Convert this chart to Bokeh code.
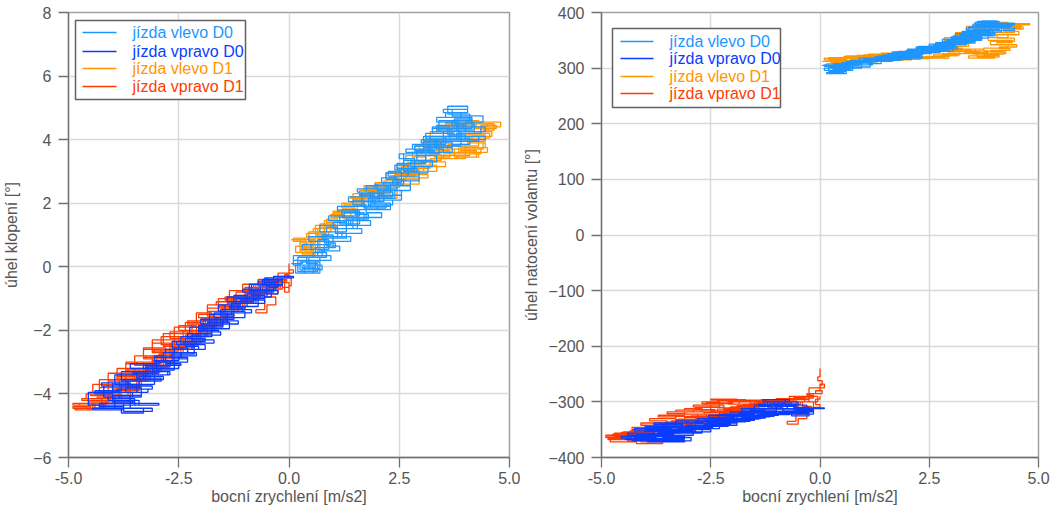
from bokeh.plotting import figure
from bokeh.models import Range1d, FixedTicker, NumeralTickFormatter, Label, BoxAnnotation
from bokeh.layouts import row
from bokeh.embed import file_html
from bokeh.resources import INLINE

# ---------------- data ----------------
series_names = ["jízda vlevo D0", "jízda vpravo D0", "jízda vlevo D1", "jízda vpravo D1"]
series_colors = ["#1e96ff", "#0a3cff", "#ff9600", "#ff3c00"]

x_ticks = [-5.0, -2.5, 0.0, 2.5, 5.0]
roll_ticks = [-6, -4, -2, 0, 2, 4, 6, 8]
steer_ticks = [-400, -300, -200, -100, 0, 100, 200, 300, 400]

x_label = "bocní zrychlení [m/s2]"
roll_label = "úhel klopení [°]"
steer_label = "úhel natocení volantu [°]"

# jízda vlevo D0
lb_x = [0.05,0.30,0.10,0.45,0.25,0.60,0.35,0.70,0.40,0.65,
        0.20,0.55,0.80,0.50,0.90,0.65,1.00,0.75,1.10,0.85,
        1.30,1.00,1.45,1.15,1.60,1.25,1.70,1.35,1.55,1.20,
        1.75,1.45,1.95,1.60,2.05,1.70,2.20,1.85,2.30,1.95,
        2.45,2.10,2.55,2.25,2.70,2.40,2.85,2.50,3.00,2.65,
        3.20,2.80,3.35,3.00,3.50,3.10,3.65,3.25,3.80,3.35,
        3.90,3.50,4.05,3.60,4.10,3.70,4.35,3.80,4.45,3.85,
        4.20,3.75,4.15,3.60,4.00,3.45,3.90,3.40,3.85,3.30,
        3.70,3.15,3.55,3.05,3.40,2.90,3.25,2.75,3.10,2.60,
        2.95,2.40,2.75,2.20,2.55,2.00,2.35,1.80,2.15,1.65,
        2.00,1.50,1.80,1.30,1.55,1.05,1.30,0.80,1.05,0.60,
        0.85,0.45,0.70,0.30,0.55,0.15,
        0.60,0.10,0.75,0.30,0.95,0.45,1.20,0.70,1.40,0.90,
        1.60,1.10,1.85,1.35,2.05,1.55,2.25,1.75,2.35,1.90,
        2.30,1.80,2.40,2.00,2.60,2.20,2.90,2.45,3.05,2.60,
        3.30,2.85,3.55,3.05,3.75,3.25,3.95,3.40,4.15,3.55,
        4.05,3.70,4.40,3.80,4.45,3.90,4.30,3.70,4.10,3.50,
        4.00,3.35,3.85,3.20,3.70,3.05,3.50,2.90,3.35,2.75,
        3.15,2.55,2.95,2.35,2.75,2.15,2.55,1.95,2.30,1.75,
        2.10,1.55,1.85,1.30,1.65,1.10,1.40,0.85,1.15,0.65,
        0.95,0.45,0.75,0.30,0.60,0.20]
lb_roll = [0.10,0.20,0.05,-0.10,0.15,0.00,-0.20,0.30,0.10,-0.15,
           0.30,0.45,0.70,0.55,0.85,0.60,1.00,0.90,1.25,1.10,
           1.40,1.20,1.60,1.35,1.55,1.70,1.45,1.30,1.80,1.55,
           1.95,2.10,2.25,2.30,2.05,1.85,2.00,2.35,2.60,2.45,
           2.80,2.65,3.00,2.85,3.20,3.05,3.40,3.55,3.70,3.60,
           3.85,3.70,4.00,3.90,4.20,4.05,4.40,4.25,4.55,4.70,
           4.85,4.95,5.05,4.80,4.60,4.40,4.20,4.00,4.10,4.30,
           4.50,4.65,4.35,4.15,3.95,3.80,4.25,4.45,4.00,3.75,
           3.60,3.85,4.10,3.70,3.55,3.35,3.15,3.25,3.55,3.00,
           2.85,2.70,2.55,2.40,2.25,2.10,1.95,2.05,2.30,1.90,
           1.80,1.65,1.50,1.35,1.20,1.05,0.90,0.75,0.60,0.45,
           0.30,0.15,-0.05,0.00,-0.20,0.05,
           0.20,0.35,0.55,0.70,0.80,0.95,1.10,1.30,1.45,1.60,
           1.75,1.90,2.05,2.20,2.35,2.45,2.55,2.35,2.20,2.00,
           1.90,2.15,2.40,2.60,2.75,2.95,3.10,3.25,3.35,3.55,
           3.65,3.80,3.95,4.10,4.20,4.35,4.45,4.60,4.70,4.85,
           4.95,4.75,4.55,4.40,4.25,4.10,3.95,3.85,4.05,4.25,
           4.45,4.30,4.10,3.90,3.75,3.60,3.70,3.50,3.30,3.15,
           2.95,2.85,2.70,2.55,2.40,2.25,2.10,1.95,1.80,1.70,
           1.55,1.45,1.30,1.20,1.05,0.95,0.80,0.65,0.50,0.35,
           0.20,0.05,-0.10,-0.15,0.05,0.20]
lb_steer = [305,306,303,300,302,304,298,296,299,302,
            306,308,310,307,305,309,312,314,311,309,
            313,316,318,315,317,320,322,319,316,318,
            321,324,322,325,327,324,322,326,329,331,
            334,332,336,339,337,335,340,343,346,344,
            348,352,356,353,358,362,366,363,368,372,
            376,379,382,384,380,377,374,378,381,376,
            372,368,365,361,358,362,366,363,359,355,
            352,348,351,354,350,346,343,340,337,341,
            338,334,331,328,331,327,324,326,329,325,
            322,319,321,317,314,316,313,310,312,308,
            305,302,299,296,292,290,
            296,300,304,308,302,306,310,314,318,314,
            312,316,320,318,322,326,324,320,318,322,
            326,330,334,332,336,338,334,330,336,342,
            348,345,352,358,364,360,368,374,378,382,
            385,380,376,372,368,373,378,374,369,364,
            358,354,360,356,350,346,352,348,342,338,
            334,338,332,328,334,330,326,322,326,320,
            316,318,314,318,312,308,312,306,302,306,
            300,296,302,298,294,300]

# jízda vpravo D0
bl_x = [-0.10,-0.35,-0.15,-0.45,-0.25,-0.60,-0.35,-0.75,-0.50,-0.85,
        -0.55,-0.95,-0.70,-1.10,-0.80,-1.20,-0.95,-1.35,-1.05,-1.45,
        -1.15,-1.55,-1.25,-1.70,-1.40,-1.80,-1.50,-1.95,-1.60,-2.05,
        -1.75,-2.20,-1.90,-2.35,-2.05,-2.50,-2.15,-2.65,-2.30,-2.80,
        -2.45,-2.95,-2.60,-3.10,-2.75,-3.25,-2.90,-3.40,-3.05,-3.55,
        -3.20,-3.70,-3.35,-3.85,-3.50,-4.00,-3.60,-4.25,-3.75,-4.45,
        -3.80,-3.30,-3.95,-3.40,-4.55,-3.55,-4.20,-3.65,-4.00,-3.45,
        -3.95,-3.30,-3.80,-3.15,-3.60,-3.00,-3.45,-2.85,-3.25,-2.70,
        -3.05,-2.50,-2.85,-2.30,-2.65,-2.10,-2.45,-1.90,-2.25,-1.70,
        -2.00,-1.50,-1.80,-1.30,-1.60,-1.10,-1.40,-0.95,-1.25,-0.80,
        -1.05,-0.60,-0.90,-0.45,-0.70,-0.30,-0.55,-0.15,-0.35,0.10,
        -0.50,-0.15,-0.65,-0.25,-0.85,-0.40,-1.00,-0.55,-1.20,-0.70,
        -1.30,-0.85,-1.50,-1.00,-1.65,-1.15,-1.85,-1.35,-2.05,-1.55,
        -2.20,-1.70,-2.40,-1.90,-2.60,-2.10,-2.80,-2.30,-3.00,-2.50,
        -3.20,-2.70,-3.45,-2.90,-3.65,-3.10,-3.90,-3.35,-4.10,-3.55,
        -4.30,-3.75,-3.10,-3.60,-2.95,-3.50,-4.00,-4.40,-3.80,-4.25,
        -3.60,-4.00,-3.40,-3.80,-3.15,-3.55,-2.95,-3.30,-2.70,-3.05,
        -2.45,-2.80,-2.20,-2.55,-1.95,-2.30,-1.75,-2.05,-1.50,-1.80,
        -1.25,-1.55,-1.00,-1.30,-0.75,-1.05,-0.50,-0.80,-0.30,-0.55]
bl_roll = [-0.30,-0.45,-0.55,-0.65,-0.40,-0.60,-0.80,-0.75,-0.55,-0.90,
           -1.00,-0.85,-1.05,-1.15,-0.95,-1.00,-1.25,-1.30,-1.40,-1.20,
           -1.35,-1.55,-1.60,-1.45,-1.75,-1.90,-1.70,-2.00,-2.05,-1.85,
           -2.20,-2.35,-2.25,-2.50,-2.60,-2.45,-2.75,-2.90,-2.85,-3.05,
           -3.10,-2.95,-3.25,-3.40,-3.30,-3.55,-3.60,-3.45,-3.70,-3.85,
           -3.95,-3.80,-4.05,-4.15,-4.25,-4.05,-4.35,-4.30,-4.50,-4.45,
           -4.60,-4.45,-4.20,-4.35,-3.95,-4.10,-3.75,-3.65,-3.95,-3.70,
           -3.40,-3.55,-3.30,-3.20,-3.05,-3.30,-3.55,-3.45,-3.15,-3.00,
           -2.80,-2.95,-2.70,-2.55,-2.35,-2.45,-2.20,-2.10,-1.90,-1.80,
           -1.65,-1.75,-1.50,-1.40,-1.20,-1.10,-0.95,-0.90,-1.10,-0.80,
           -0.70,-0.75,-0.55,-0.60,-0.45,-0.50,-0.35,-0.40,-0.30,-0.35,
           -0.45,-0.60,-0.75,-0.85,-0.70,-0.95,-1.05,-1.15,-1.00,-1.25,
           -1.35,-1.45,-1.40,-1.60,-1.70,-1.80,-1.75,-1.95,-2.05,-2.15,
           -2.30,-2.40,-2.45,-2.60,-2.70,-2.80,-2.85,-3.00,-3.10,-3.20,
           -3.30,-3.40,-3.50,-3.60,-3.75,-3.85,-3.95,-4.10,-4.20,-4.30,
           -4.40,-4.55,-4.45,-4.30,-4.35,-4.15,-4.00,-3.90,-3.75,-3.65,
           -3.75,-3.75,-3.55,-3.60,-3.40,-3.35,-3.20,-3.10,-2.95,-2.85,
           -2.70,-2.60,-2.45,-2.35,-2.25,-2.10,-2.00,-1.85,-1.75,-1.65,
           -1.50,-1.35,-1.25,-1.15,-1.00,-0.95,-0.80,-0.70,-0.55,-0.45]
bl_steer = [-312,-315,-318,-314,-310,-316,-320,-317,-313,-318,
            -322,-319,-323,-321,-317,-320,-324,-322,-326,-323,
            -327,-325,-329,-327,-331,-329,-333,-331,-335,-332,
            -336,-334,-338,-336,-340,-338,-342,-340,-344,-342,
            -346,-344,-348,-346,-350,-348,-352,-350,-354,-352,
            -356,-354,-358,-356,-360,-358,-362,-364,-366,-368,
            -370,-372,-368,-365,-362,-359,-356,-353,-350,-347,
            -344,-341,-338,-341,-344,-347,-350,-353,-350,-346,
            -342,-339,-336,-333,-336,-333,-330,-327,-330,-327,
            -324,-321,-318,-315,-312,-308,-304,-300,-296,-300,
            -304,-308,-312,-316,-320,-318,-314,-316,-312,-311,
            -318,-322,-325,-320,-316,-312,-308,-304,-300,-296,
            -300,-306,-312,-318,-324,-320,-326,-330,-326,-332,
            -336,-332,-338,-342,-338,-344,-348,-344,-350,-354,
            -350,-356,-360,-356,-362,-366,-360,-356,-362,-366,
            -370,-372,-368,-364,-370,-366,-360,-356,-352,-348,
            -344,-348,-352,-346,-340,-344,-338,-334,-338,-334,
            -330,-334,-328,-324,-328,-322,-318,-322,-316,-312,
            -316,-320,-316,-312,-308,-304,-300,-306,-312,-316]

# jízda vlevo D1
or_x = [0.05,0.35,0.10,0.40,0.25,0.55,0.30,0.60,0.35,0.50,
        0.20,0.65,0.40,0.80,0.55,0.95,0.70,1.10,0.85,1.25,
        0.95,1.40,1.10,1.55,1.25,1.70,1.40,1.85,1.60,2.05,
        1.75,2.20,1.90,2.35,2.05,2.45,2.15,2.55,2.30,2.65,
        2.40,2.80,2.55,2.95,2.70,3.10,2.80,3.25,2.95,3.40,
        3.05,3.50,3.20,3.70,3.35,3.85,3.55,4.05,3.75,4.25,
        4.00,4.50,4.20,4.70,4.35,4.60,4.15,4.45,4.00,4.30,
        3.85,4.40,4.05,4.50,4.10,4.35,3.90,4.25,3.75,4.10,
        3.60,4.00,3.50,3.85,3.40,3.75,3.30,3.65,3.20,3.45,
        2.95,3.20,2.80,3.05,2.60,2.85,2.40,2.65,2.20,2.50,
        2.00,2.30,1.80,2.10,1.60,1.90,1.40,1.70,1.20,1.45,
        1.00,1.25,0.80,1.05,0.65,0.85,0.45,0.65,0.30,0.50,
        0.15,0.55,0.25,0.60,0.35,0.70,0.45,0.90,0.60,1.05,
        0.80,1.30,1.00,1.50,1.20,1.70,1.45,2.00,1.70,2.25,
        1.95,2.50,2.20,2.75,2.45,3.00,2.65,3.20,2.85,3.45,
        3.10,3.70,3.35,3.95,3.60,4.30,4.80,4.40,4.65,4.20,
        4.55,4.05,4.45,3.90,4.30,3.75,4.20,3.60,4.00,3.40,
        3.80,3.20,3.55,3.00,3.35,2.80,3.15,2.60,2.95,2.40]
or_roll = [0.85,0.90,0.80,0.55,0.75,0.45,0.40,0.70,0.60,0.85,
           0.90,1.05,0.95,1.20,1.10,1.35,1.25,1.50,1.40,1.65,
           1.55,1.80,1.75,2.00,1.95,2.20,2.15,2.40,2.30,2.45,
           2.50,2.55,2.35,2.20,2.15,2.50,2.70,2.85,2.75,2.95,
           2.90,3.15,3.05,3.25,3.35,3.45,3.60,3.70,3.80,3.90,
           4.00,4.10,4.25,4.35,4.45,4.55,4.50,4.60,4.45,4.55,
           4.40,4.50,4.35,4.45,4.25,4.10,3.95,4.15,4.00,3.80,
           3.70,3.90,3.75,3.60,3.55,3.75,3.65,3.45,3.50,3.70,
           3.60,3.40,3.55,3.80,3.70,3.50,3.45,3.65,3.55,3.35,
           3.30,3.10,3.20,3.00,3.05,2.85,2.95,2.70,2.65,2.50,
           2.45,2.30,2.35,2.20,2.25,2.05,2.05,1.90,1.85,1.70,
           1.60,1.45,1.35,1.20,1.05,0.90,0.80,0.60,0.70,0.45,
           0.65,0.50,0.85,0.75,0.55,0.95,1.10,1.00,1.30,1.20,
           1.45,1.60,1.75,1.85,2.00,2.10,2.30,2.40,2.55,2.45,
           2.65,2.80,2.95,3.05,3.20,3.35,3.50,3.65,3.80,3.95,
           4.10,4.25,4.40,4.50,4.60,4.55,4.40,4.30,4.50,4.20,
           4.05,3.90,3.75,3.60,3.45,3.55,3.70,3.85,3.60,3.50,
           3.40,3.30,3.15,3.20,3.00,2.90,2.80,2.75,2.60,2.50]
or_steer = [312,315,318,314,310,307,304,309,313,316,
            319,317,314,318,321,319,316,320,323,321,
            318,322,325,323,320,324,327,325,322,326,
            329,327,324,328,331,329,333,336,334,338,
            335,333,337,340,338,335,332,336,339,343,
            346,350,354,358,362,366,370,374,377,380,
            377,375,378,379,376,372,368,364,360,355,
            350,346,342,338,335,332,329,326,323,320,
            322,325,328,331,334,331,328,330,333,330,
            327,324,326,322,319,321,318,320,317,319,
            316,318,315,317,314,316,313,315,312,314,
            311,313,310,312,309,311,308,306,309,305,
            308,312,316,311,307,313,318,322,319,315,
            320,324,321,317,323,327,324,320,326,330,
            327,333,336,332,338,342,346,350,355,360,
            364,370,375,379,382,378,380,374,370,366,
            360,354,348,342,336,330,325,320,318,322,
            326,330,334,330,326,322,325,321,318,320]

# jízda vpravo D1
rd_x = [0.00,0.00,-0.05,0.05,0.00,-0.10,-0.30,-0.15,-0.45,-0.25,
        -0.60,-0.35,-0.70,-0.45,-0.90,-0.60,-1.00,-0.75,-1.15,-0.85,
        -1.30,-1.00,-1.45,-1.15,-1.60,-1.25,-1.75,-1.40,-1.90,-1.55,
        -2.05,-1.70,-2.20,-1.85,-2.35,-2.00,-2.50,-2.15,-2.65,-2.30,
        -2.80,-2.45,-2.95,-2.60,-3.10,-2.75,-3.25,-2.90,-3.40,-3.05,
        -3.55,-3.20,-3.70,-3.35,-3.85,-3.50,-4.00,-3.65,-4.20,-3.80,
        -4.35,-3.95,-4.55,-4.15,-4.75,-4.30,-4.90,-4.50,-4.85,-4.40,
        -4.10,-4.60,-4.00,-4.45,-3.85,-4.30,-3.70,-4.10,-3.50,-3.90,
        -3.30,-3.70,-3.10,-3.50,-2.90,-3.30,-2.70,-3.10,-2.50,-2.90,
        -2.30,-2.70,-2.10,-2.50,-1.90,-2.30,-1.70,-2.05,-1.50,-1.85,
        -1.30,-1.65,-1.10,-1.45,-0.90,-1.20,-0.70,-1.00,-0.55,-0.75,
        -0.50,-0.30,-0.55,-0.20,-0.40,-0.05,-0.25,0.05,0.00,0.10,
        -0.25,-0.60,-0.35,-0.80,-0.50,-1.00,-0.65,-1.20,-0.85,-1.40,
        -1.05,-1.60,-1.25,-1.80,-1.45,-2.00,-1.65,-2.20,-1.85,-2.40,
        -2.05,-2.60,-2.25,-2.85,-2.45,-3.05,-2.65,-3.25,-2.85,-3.45,
        -3.05,-3.65,-3.25,-3.90,-3.45,-4.10,-3.65,-4.30,-3.85,-4.50,
        -4.05,-4.70,-4.25,-4.90,-4.45,-4.80,-4.20,-3.60,-4.10,-3.40,
        -3.90,-3.20,-3.70,-3.00,-3.50,-2.80,-3.30,-2.60,-3.10,-2.40,
        -2.85,-2.20,-2.60,-2.00,-2.35,-1.75,-2.10,-1.50,-1.85,-1.25,
        -1.60,-1.00,-1.35,-0.75,-1.05,-0.45,-0.15,0.00,-0.10,0.00]
rd_roll = [0.10,-0.20,-0.35,-0.60,-0.80,-0.50,-0.45,-0.70,-0.55,-0.85,
           -0.60,-0.40,-0.50,-0.75,-0.65,-0.85,-0.80,-1.00,-0.95,-1.10,
           -1.00,-1.25,-1.20,-1.40,-1.30,-1.55,-1.50,-1.70,-1.65,-1.85,
           -1.80,-2.00,-2.00,-2.20,-2.15,-2.40,-2.30,-2.55,-2.45,-2.70,
           -2.60,-2.85,-2.75,-3.00,-2.95,-3.15,-3.10,-3.30,-3.25,-3.45,
           -3.40,-3.60,-3.55,-3.75,-3.70,-3.90,-3.85,-4.05,-4.00,-4.15,
           -4.10,-4.25,-4.20,-4.35,-4.30,-4.45,-4.40,-4.50,-4.45,-4.30,
           -4.00,-4.15,-3.70,-3.95,-3.55,-3.80,-3.35,-3.60,-3.20,-3.45,
           -3.00,-3.25,-2.80,-3.05,-2.60,-2.85,-2.40,-2.65,-2.20,-2.45,
           -2.05,-2.25,-1.85,-2.00,-1.70,-1.80,-1.50,-1.60,-1.30,-1.40,
           -1.10,-1.20,-0.95,-1.05,-0.80,-0.90,-0.65,-0.75,-1.35,-1.45,
           -1.20,-0.95,-0.70,-0.60,-0.45,-0.40,-0.30,-0.30,-0.10,-0.20,
           -0.45,-0.40,-0.65,-0.55,-0.80,-0.70,-0.95,-0.90,-1.15,-1.05,
           -1.30,-1.25,-1.50,-1.40,-1.70,-1.65,-1.90,-1.80,-2.10,-2.00,
           -2.30,-2.20,-2.50,-2.40,-2.70,-2.60,-2.90,-2.80,-3.10,-3.00,
           -3.30,-3.20,-3.50,-3.40,-3.70,-3.60,-3.90,-3.80,-4.05,-4.00,
           -4.20,-4.15,-4.35,-4.30,-4.50,-4.45,-4.25,-3.70,-3.90,-3.40,
           -3.55,-3.05,-3.35,-2.80,-3.10,-2.55,-2.90,-2.30,-2.70,-2.10,
           -2.50,-1.90,-2.30,-1.75,-2.05,-1.45,-1.80,-1.20,-1.55,-1.00,
           -1.30,-0.75,-1.05,-0.55,-0.80,-0.40,-0.65,-0.50,-0.25,-0.05]
rd_steer = [-240,-255,-262,-270,-280,-285,-288,-293,-290,-296,
            -292,-295,-290,-294,-297,-300,-296,-302,-298,-304,
            -299,-305,-301,-307,-303,-309,-305,-311,-307,-313,
            -309,-315,-311,-317,-313,-319,-316,-322,-319,-325,
            -322,-328,-325,-331,-328,-334,-331,-337,-334,-340,
            -337,-343,-340,-346,-343,-349,-346,-352,-349,-355,
            -352,-358,-355,-361,-358,-364,-361,-366,-368,-370,
            -366,-362,-358,-354,-350,-346,-342,-338,-334,-330,
            -327,-324,-321,-318,-315,-318,-312,-315,-306,-309,
            -300,-303,-297,-295,-296,-298,-296,-297,-298,-299,
            -298,-297,-298,-300,-296,-298,-294,-296,-335,-340,
            -330,-322,-315,-308,-300,-290,-285,-280,-268,-275,
            -300,-296,-300,-304,-308,-302,-306,-310,-314,-308,
            -312,-316,-320,-314,-318,-322,-326,-320,-324,-328,
            -332,-326,-330,-334,-338,-332,-336,-340,-344,-338,
            -342,-346,-350,-344,-348,-352,-356,-350,-354,-358,
            -362,-356,-360,-364,-368,-372,-375,-372,-366,-362,
            -356,-352,-346,-342,-336,-332,-326,-322,-318,-314,
            -310,-306,-302,-298,-296,-300,-304,-300,-304,-300,
            -304,-300,-296,-300,-304,-300,-310,-305,-295,-290]

FONT = "Liberation Sans"


def make_panel(width, y_rng, y_ticks, y_label, ys, min_left, min_right, ylab_standoff, leg):
    p = figure(width=width, height=510, x_range=Range1d(-5, 5), y_range=Range1d(*y_rng),
               output_backend="svg", toolbar_location=None,
               min_border_left=min_left, min_border_right=min_right,
               min_border_top=12, min_border_bottom=53)
    p.outline_line_color = "#a0a0a0"
    p.outline_line_width = 1.5
    for ax, ticks, lab in ((p.xaxis[0], x_ticks, x_label), (p.yaxis[0], y_ticks, y_label)):
        ax.ticker = FixedTicker(ticks=ticks)
        ax.axis_label = lab
        ax.axis_label_text_font = FONT
        ax.axis_label_text_font_size = "16px"
        ax.axis_label_text_font_style = "normal"
        ax.axis_label_text_color = "#555555"
        ax.major_label_text_font = FONT
        ax.major_label_text_font_size = "16px"
        ax.major_label_text_color = "#555555"
        ax.axis_line_color = "#707070"
        ax.axis_line_width = 1.3
        ax.major_tick_line_color = "#707070"
        ax.major_tick_line_width = 1.3
        ax.major_tick_out = 10
        ax.major_tick_in = 0
        ax.minor_tick_line_color = None
    p.xaxis[0].formatter = NumeralTickFormatter(format="0.0")
    p.xaxis[0].major_label_standoff = 4
    p.xaxis[0].axis_label_standoff = 1
    p.yaxis[0].major_label_standoff = 7
    p.yaxis[0].axis_label_standoff = ylab_standoff
    p.xgrid.ticker = FixedTicker(ticks=x_ticks)
    p.ygrid.ticker = FixedTicker(ticks=y_ticks)
    p.grid.grid_line_color = "#dadada"
    p.grid.grid_line_width = 1.5

    xs = [lb_x, bl_x, or_x, rd_x]
    order = [2, 3, 0, 1]
    for i in order:
        n = min(len(xs[i]), len(ys[i]))
        p.step(xs[i][:n], ys[i][:n], mode="after",
               line_color=series_colors[i], line_width=1.3)

    bx0, bx1, by0, by1, lx0, lx1, tx, rows = leg
    p.add_layout(BoxAnnotation(left=bx0, right=bx1, bottom=by0, top=by1,
                               left_units="screen", right_units="screen",
                               bottom_units="screen", top_units="screen",
                               fill_color="white", fill_alpha=1.0,
                               line_color="#606060", line_width=1.5, line_alpha=1.0))
    for i, yy in enumerate(rows):
        p.add_layout(BoxAnnotation(left=lx0, right=lx1, bottom=yy - 0.75, top=yy + 0.75,
                                   left_units="screen", right_units="screen",
                                   bottom_units="screen", top_units="screen",
                                   fill_color=series_colors[i], fill_alpha=1.0,
                                   line_alpha=0))
        p.add_layout(Label(x=tx, y=yy, x_units="screen", y_units="screen",
                           text=series_names[i], text_color=series_colors[i],
                           text_font=FONT, text_font_size="16px",
                           text_baseline="middle", text_align="left"))
    return p


p1 = make_panel(520, (-6, 8), roll_ticks, roll_label,
                [lb_roll, bl_roll, or_roll, rd_roll], 65, 11, 10,
                (7, 177, 358, 437, 14, 48, 64, [425, 406, 389, 371]))
p2 = make_panel(530, (-400, 400), steer_ticks, steer_label,
                [lb_steer, bl_steer, or_steer, rd_steer], 79, 12, 5,
                (11, 179, 350, 429, 19, 52, 68, [416, 399, 381, 364]))

layout = row(p1, p2)
open("out.html", "w").write(file_html(layout, INLINE))
